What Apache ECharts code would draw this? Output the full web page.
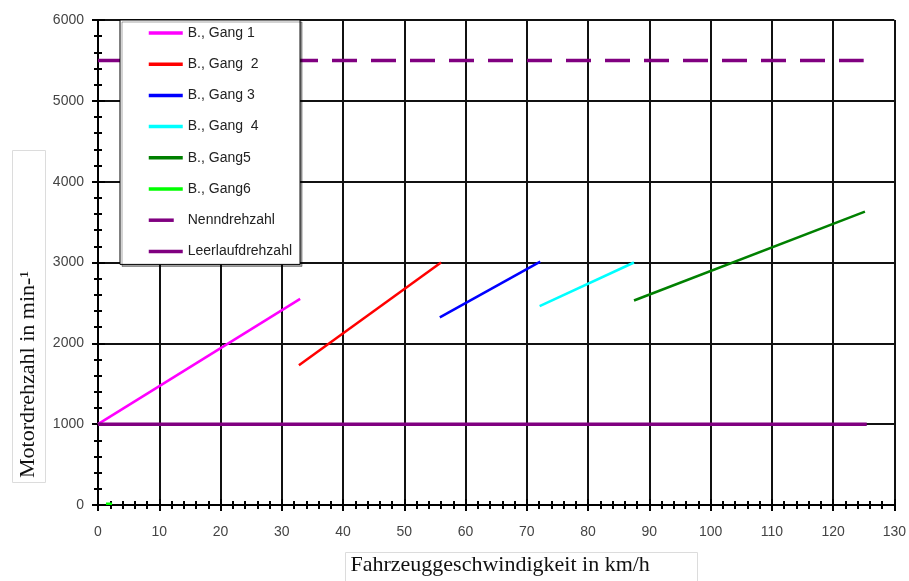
<!DOCTYPE html>
<html>
<head>
<meta charset="utf-8">
<script src="https://cdn.jsdelivr.net/npm/echarts@6/dist/echarts.min.js"></script>
<style>
  html, body { margin: 0; padding: 0; background: #fff; }
  #chart { width: 909px; height: 581px; }
</style>
</head>
<body>
<div id="chart"></div>
<script>
// Speed (km/h) and engine speed (1/min) for each gear
const gang1Speed = [0, 33.0];
const gang1Rpm   = [1000, 2550];
const gang2Speed = [32.8, 56.0];
const gang2Rpm   = [1730, 3000];
const gang3Speed = [55.8, 72.2];
const gang3Rpm   = [2320, 3010];
const gang4Speed = [72.1, 87.5];
const gang4Rpm   = [2460, 3000];
const gang5Speed = [87.5, 125.2];
const gang5Rpm   = [2530, 3630];
const gang6Speed = [1.3, 2.3];
const gang6Rpm   = [15, 15];
const nennSpeed  = [0, 125.0];
const nennRpm    = [5500, 5500];
const leerSpeed  = [0, 125.5];
const leerRpm    = [1000, 1000];

const seriesNames = ['B., Gang 1', 'B., Gang  2', 'B., Gang 3', 'B., Gang  4',
                     'B., Gang5', 'B., Gang6', 'Nenndrehzahl', 'Leerlaufdrehzahl'];
const seriesColors = ['#ff00ff', '#ff0000', '#0000ff', '#00ffff',
                      '#008000', '#00ff00', '#800080', '#800080'];

const xTicks = { min: 0, max: 130, interval: 10 };
const yTicks = { min: 0, max: 6000, interval: 1000 };

function pairs(xs, ys) { return xs.map((x, i) => [x, ys[i]]); }

const dataSets = [
  pairs(gang1Speed, gang1Rpm),
  pairs(gang2Speed, gang2Rpm),
  pairs(gang3Speed, gang3Rpm),
  pairs(gang4Speed, gang4Rpm),
  pairs(gang5Speed, gang5Rpm),
  pairs(gang6Speed, gang6Rpm),
  pairs(nennSpeed, nennRpm),
  pairs(leerSpeed, leerRpm)
];

const series = dataSets.map((d, i) => ({
  name: seriesNames[i],
  type: 'line',
  data: d,
  symbol: 'none',
  showSymbol: false,
  silent: true,
  animation: false,
  color: seriesColors[i],
  lineStyle: {
    color: seriesColors[i],
    width: i >= 6 ? 3.5 : 2.5,
    type: i === 6 ? [25, 14] : 'solid'
  }
}));

const labelFont = { fontFamily: 'Liberation Sans', fontSize: 14, color: '#444' };
const titleFont = { fontFamily: 'Liberation Serif', fontSize: 22, color: '#111' };
const plainNumber = v => String(v);

const chart = echarts.init(document.getElementById('chart'), null, { renderer: 'canvas' });
chart.setOption({
  animation: false,
  backgroundColor: '#fff',
  grid: { left: 98, right: 14, top: 20, bottom: 75 },
  legend: {
    orient: 'vertical',
    left: 120,
    top: 20,
    padding: [6, 8, 6, 27],
    itemGap: 17.2,
    itemWidth: 34,
    itemHeight: 14,
    backgroundColor: '#fff',
    borderColor: '#000',
    borderWidth: 1,
    shadowColor: 'rgba(0,0,0,0.35)',
    shadowOffsetX: 2,
    shadowOffsetY: 2,
    selectedMode: false,
    itemStyle: { opacity: 0 },
    lineStyle: { width: 3.5 },
    data: seriesNames,
    textStyle: { fontFamily: 'Liberation Sans', fontSize: 14, color: '#222' }
  },
  graphic: [
    { type: 'rect', shape: { x: 12.5, y: 150.5, width: 33, height: 332 },
      style: { fill: 'none', stroke: '#dcdcdc', lineWidth: 1 }, z: 0 },
    { type: 'rect', shape: { x: 345.5, y: 552.5, width: 352, height: 40 },
      style: { fill: 'none', stroke: '#dcdcdc', lineWidth: 1 }, z: 0 }
  ],
  xAxis: [
    {
      type: 'value', min: xTicks.min, max: xTicks.max, interval: xTicks.interval,
      name: 'Fahrzeuggeschwindigkeit in km/h',
      nameLocation: 'middle', nameGap: 49,
      nameTextStyle: Object.assign({ padding: [0, 0, 0, 8] }, titleFont),
      axisLine: { show: true, onZero: false, lineStyle: { color: '#000', width: 2 } },
      axisTick: { show: true, inside: false, length: 6, lineStyle: { color: '#000', width: 2 } },
      minorTick: { show: true, splitNumber: 5, length: 4, lineStyle: { color: '#000', width: 2 } },
      axisLabel: Object.assign({ margin: 20, formatter: plainNumber }, labelFont),
      splitLine: { show: true, lineStyle: { color: '#111', width: 2 } }
    },
    {
      type: 'value', min: xTicks.min, max: xTicks.max, interval: xTicks.interval,
      position: 'bottom',
      axisLine: { show: false },
      axisTick: { show: true, inside: true, length: 6, lineStyle: { color: '#000', width: 2 } },
      minorTick: { show: true, splitNumber: 5, length: 4, lineStyle: { color: '#000', width: 2 } },
      axisLabel: { show: false },
      splitLine: { show: false }
    }
  ],
  yAxis: [
    {
      type: 'value', min: yTicks.min, max: yTicks.max, interval: yTicks.interval,
      name: 'Motordrehzahl in min-¹',
      nameLocation: 'middle', nameGap: 59, nameRotate: 90,
      nameTextStyle: Object.assign({ padding: [0, 224, 0, 0] }, titleFont),
      axisLine: { show: true, onZero: false, lineStyle: { color: '#000', width: 2 } },
      axisTick: { show: true, inside: false, length: 6, lineStyle: { color: '#000', width: 2 } },
      minorTick: { show: true, splitNumber: 5, length: 4, lineStyle: { color: '#000', width: 2 } },
      axisLabel: Object.assign({ margin: 14, formatter: plainNumber }, labelFont),
      splitLine: { show: true, lineStyle: { color: '#111', width: 2 } }
    },
    {
      type: 'value', min: yTicks.min, max: yTicks.max, interval: yTicks.interval,
      position: 'left',
      axisLine: { show: false },
      axisTick: { show: true, inside: true, length: 7, lineStyle: { color: '#000', width: 2 } },
      minorTick: { show: true, splitNumber: 5, length: 4, lineStyle: { color: '#000', width: 2 } },
      axisLabel: { show: false },
      splitLine: { show: false }
    }
  ],
  series: series
});
</script>
</body>
</html>
